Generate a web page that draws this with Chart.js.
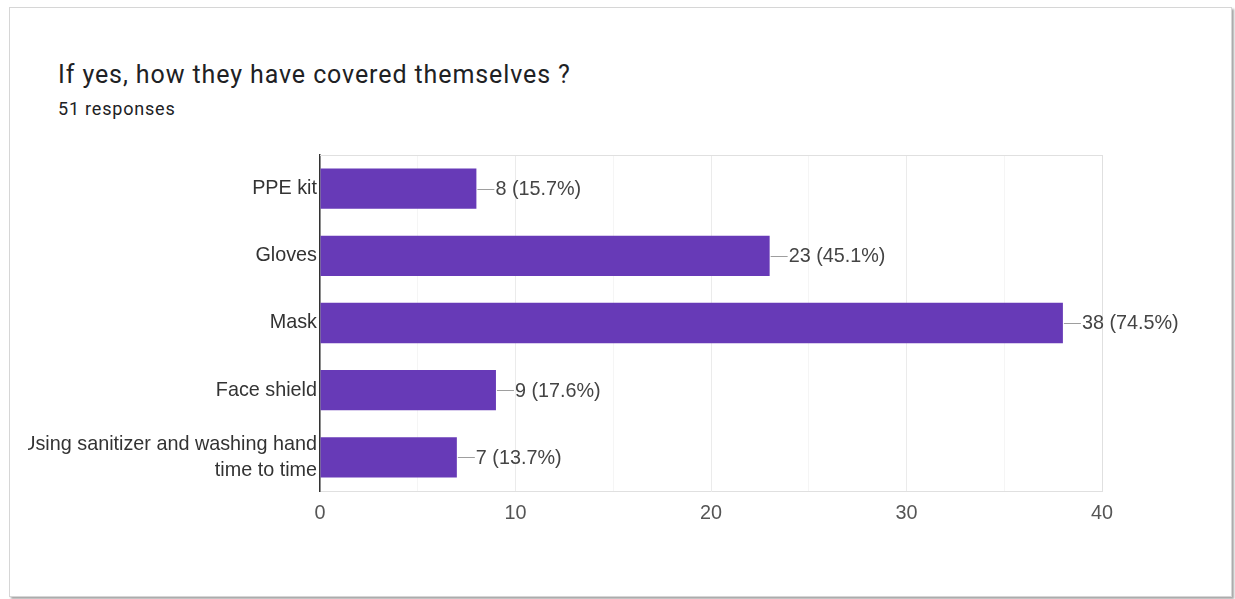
<!DOCTYPE html>
<html>
<head>
<meta charset="utf-8">
<script src="https://cdn.jsdelivr.net/npm/chart.js@4.4.1/dist/chart.umd.min.js"></script>
<style>
  html, body { margin: 0; padding: 0; background: #fff; }
  body { width: 1235px; height: 599px; position: relative; overflow: hidden; }
  #card {
    position: absolute; left: 9px; top: 7px; width: 1221px; height: 588px;
    border: 1px solid #d6d6d6; box-shadow: 2px 2px 2px rgba(0,0,0,0.35);
    background: #fff;
  }
  #title {
    position: absolute; left: 58px; top: 60px; letter-spacing: 0.9px;
    font: 25px Roboto, "Open Sans", sans-serif; color: #202124;
  }
  #sub {
    position: absolute; left: 58px; top: 98px; letter-spacing: 0.8px;
    font: 18px Roboto, "Open Sans", sans-serif; color: #202124;
  }
  #wrap { position: absolute; left: 28px; top: 0; width: 1207px; height: 599px; }
</style>
</head>
<body>
<div id="card"></div>
<div id="title">If yes, how they have covered themselves ?</div>
<div id="sub">51 responses</div>
<div id="wrap"><canvas id="chart" width="1207" height="599"></canvas></div>
<script>
const categories = [
  'PPE kit',
  'Gloves',
  'Mask',
  'Face shield',
  ['Using sanitizer and washing hand', 'time to time']
];
const counts = [8, 23, 38, 9, 7];
const percents = ['15.7%', '45.1%', '74.5%', '17.6%', '13.7%'];
const xTicks = [0, 10, 20, 30, 40];

const plotLeft = 320 - 28;   // y axis width inside the canvas
const font = 'Arial, "Liberation Sans", sans-serif';
const fontSize = 19.8;

// top frame line plus value labels with a short leader
const barLabels = {
  id: 'barLabels',
  beforeDatasetsDraw(chart) {
    const { ctx, chartArea } = chart;
    ctx.save();
    ctx.strokeStyle = '#e0e0e0';
    ctx.lineWidth = 1;
    ctx.beginPath();
    ctx.moveTo(chartArea.left, chartArea.top + 0.5);
    ctx.lineTo(chartArea.right, chartArea.top + 0.5);
    ctx.stroke();
    ctx.restore();
  },
  afterDatasetsDraw(chart) {
    const { ctx } = chart;
    const meta = chart.getDatasetMeta(0);
    ctx.save();
    ctx.font = fontSize + 'px ' + font;
    ctx.textBaseline = 'middle';
    meta.data.forEach((bar, i) => {
      ctx.strokeStyle = '#9e9e9e';
      ctx.lineWidth = 1;
      ctx.beginPath();
      ctx.moveTo(bar.x + 1, Math.round(bar.y) + 0.5);
      ctx.lineTo(bar.x + 18, Math.round(bar.y) + 0.5);
      ctx.stroke();
      ctx.fillStyle = '#444';
      ctx.fillText(counts[i] + ' (' + percents[i] + ')', bar.x + 19, bar.y + 1);
    });
    ctx.restore();
  }
};

new Chart(document.getElementById('chart'), {
  type: 'bar',
  data: {
    labels: categories,
    datasets: [{
      data: counts,
      backgroundColor: '#673ab7',
      borderWidth: 0,
      barPercentage: 0.6,
      categoryPercentage: 1
    }]
  },
  options: {
    indexAxis: 'y',
    responsive: false,
    animation: false,
    devicePixelRatio: 1,
    layout: { padding: { top: 155, right: 133, bottom: 0, left: 0 } },
    plugins: { legend: { display: false }, tooltip: { enabled: false } },
    scales: {
      x: {
        min: 0, max: 40,
        afterBuildTicks(scale) {
          scale.ticks = [];
          for (let v = 0; v <= 40; v += 5) scale.ticks.push({ value: v });
        },
        afterFit(scale) { scale.height = 599 - 491; },
        ticks: {
          padding: 11,
          color: '#555',
          font: { family: font, size: fontSize },
          callback: v => xTicks.includes(v) ? String(v) : ''
        },
        grid: {
          drawTicks: false,
          color: ctx => {
            const v = ctx.tick ? ctx.tick.value : 0;
            if (v === 40) return '#e0e0e0';
            return v % 10 === 0 ? '#ebebeb' : '#f5f5f5';
          }
        },
        border: { color: '#e0e0e0' }
      },
      y: {
        afterFit(scale) { scale.width = plotLeft; },
        ticks: {
          padding: 3,
          color: '#333',
          font: { family: font, size: fontSize, lineHeight: 1.3 }
        },
        grid: { display: false, drawTicks: false },
        border: { color: '#333', width: 1.5 }
      }
    }
  },
  plugins: [barLabels]
});
</script>
</body>
</html>
